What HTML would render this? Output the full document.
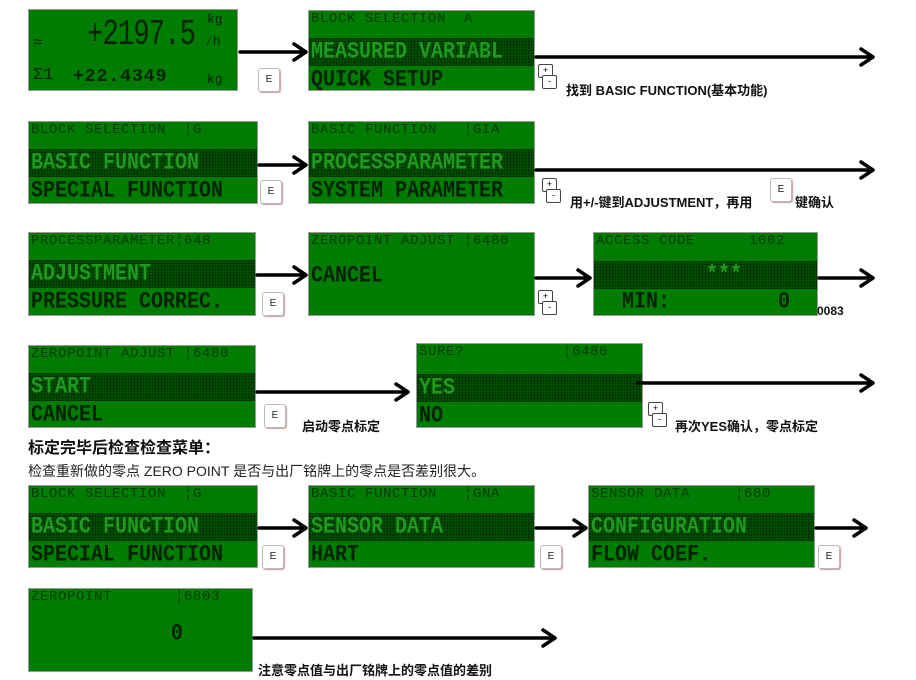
<!DOCTYPE html>
<html><head><meta charset="utf-8">
<style>
body{margin:0;width:916px;height:680px;background:#fff;position:relative;overflow:hidden;font-family:"Liberation Sans","Noto Sans CJK SC",sans-serif;}
.lcd{position:absolute;background:#007d00;border:1px solid #9a9a9a;box-sizing:border-box;overflow:hidden;font-family:"Liberation Mono",monospace;}
.hd{position:absolute;left:2px;top:0px;font-size:14px;color:#003c00;letter-spacing:0.6px;white-space:pre;line-height:16px;}
.band{position:absolute;left:0;right:0;top:27px;height:28px;background:#005000;background-image:repeating-linear-gradient(90deg,rgba(0,0,0,.25) 0 1px,transparent 1px 3px),repeating-linear-gradient(0deg,rgba(0,0,0,.25) 0 1px,transparent 1px 3px);}
.r{position:absolute;left:2px;font-size:20px;letter-spacing:0px;white-space:pre;line-height:22px;transform:scaleY(1.15);transform-origin:top left;font-weight:bold;}
.r2{top:29px;color:#1f9a1f;}
.r3{top:57px;color:#002200;}
.key{position:absolute;width:20px;height:22px;background:#fff;border:1px solid #bbb;border-radius:3px;box-shadow:1px 1px 1px #c99;font-size:10px;text-align:center;line-height:22px;font-family:"Liberation Sans",sans-serif;color:#222;}
.pm{position:absolute;width:22px;height:26px;}
.pm div{position:absolute;width:13px;height:12px;background:#fff;border:1px solid #444;border-radius:2px;font-size:9px;line-height:10px;text-align:center;}
.t{position:absolute;font-size:13px;font-weight:bold;color:#111;white-space:nowrap;}
svg{position:absolute;left:0;top:0;}
</style></head><body>

<!-- Row1 -->
<div class="lcd" style="left:28px;top:9px;width:210px;height:82px;">
  <div style="position:absolute;left:58px;top:4px;font-size:36px;color:#002200;transform:scaleX(0.75);transform-origin:left;letter-spacing:-1px;">+2197.5</div>
  <div style="position:absolute;left:178px;top:2px;font-size:13px;color:#002200;">kg</div>
  <div style="position:absolute;left:176px;top:24px;font-size:13px;color:#002200;">∕h</div>
  <div style="position:absolute;left:4px;top:24px;font-size:16px;color:#002200;">≈</div>
  <div style="position:absolute;left:4px;top:56px;font-size:17px;color:#002200;">Σ1</div>
  <div style="position:absolute;left:44px;top:57px;font-size:18px;font-weight:bold;color:#002200;letter-spacing:1px;">+22.4349</div>
  <div style="position:absolute;left:178px;top:62px;font-size:13px;color:#002200;">kg</div>
</div>
<div class="key" style="left:258px;top:68px;">E</div>
<div class="lcd" style="left:308px;top:10px;width:227px;height:81px;">
  <div class="hd">BLOCK SELECTION  A</div><div class="band"></div>
  <div class="r r2">MEASURED VARIABL</div><div class="r r3">QUICK SETUP</div>
</div>
<div class="pm" style="left:538px;top:64px;"><div style="left:0;top:0">+</div><div style="left:4px;top:11px">-</div></div>
<div class="t" style="left:566px;top:80px;">找到 BASIC FUNCTION(基本功能)</div>

<!-- Row2 -->
<div class="lcd" style="left:28px;top:121px;width:230px;height:83px;">
  <div class="hd">BLOCK SELECTION  ¦G</div><div class="band"></div>
  <div class="r r2">BASIC FUNCTION</div><div class="r r3">SPECIAL FUNCTION</div>
</div>
<div class="key" style="left:260px;top:180px;">E</div>
<div class="lcd" style="left:308px;top:121px;width:227px;height:83px;">
  <div class="hd">BASIC FUNCTION   ¦GIA</div><div class="band"></div>
  <div class="r r2">PROCESSPARAMETER</div><div class="r r3">SYSTEM PARAMETER</div>
</div>
<div class="pm" style="left:542px;top:178px;"><div style="left:0;top:0">+</div><div style="left:4px;top:11px">-</div></div>
<div class="t" style="left:570px;top:192px;">用+/-键到ADJUSTMENT，再用</div>
<div class="key" style="left:770px;top:178px;">E</div>
<div class="t" style="left:795px;top:192px;">键确认</div>

<!-- Row3 -->
<div class="lcd" style="left:28px;top:232px;width:228px;height:84px;">
  <div class="hd">PROCESSPARAMETER¦648</div><div class="band"></div>
  <div class="r r2">ADJUSTMENT</div><div class="r r3">PRESSURE CORREC.</div>
</div>
<div class="key" style="left:262px;top:292px;">E</div>
<div class="lcd" style="left:308px;top:232px;width:227px;height:84px;">
  <div class="hd">ZEROPOINT ADJUST ¦6480</div>
  <div class="r" style="top:31px;color:#002200;">CANCEL</div>
</div>
<div class="pm" style="left:538px;top:290px;"><div style="left:0;top:0">+</div><div style="left:4px;top:11px">-</div></div>
<div class="lcd" style="left:593px;top:232px;width:225px;height:84px;">
  <div class="hd">ACCESS CODE      1002</div><div class="band" style="top:28px;"></div>
  <div class="r" style="top:30px;left:112px;color:#1f9a1f;">***</div>
  <div class="r r3" style="left:28px;">MIN:         0</div>
</div>
<div class="t" style="left:817px;top:304px;font-size:12px;">0083</div>

<!-- Row4 -->
<div class="lcd" style="left:28px;top:345px;width:228px;height:83px;">
  <div class="hd">ZEROPOINT ADJUST ¦6480</div><div class="band"></div>
  <div class="r r2">START</div><div class="r r3">CANCEL</div>
</div>
<div class="key" style="left:264px;top:404px;">E</div>
<div class="t" style="left:302px;top:416px;">启动零点标定</div>
<div class="lcd" style="left:416px;top:343px;width:227px;height:85px;">
  <div class="hd">SURE?           ¦6480</div><div class="band" style="top:30px;"></div>
  <div class="r r2" style="top:32px;">YES</div><div class="r r3" style="top:60px;">NO</div>
</div>
<div class="pm" style="left:648px;top:402px;"><div style="left:0;top:0">+</div><div style="left:4px;top:11px">-</div></div>
<div class="t" style="left:675px;top:416px;">再次YES确认，零点标定</div>

<div style="position:absolute;left:28px;top:434px;font-size:16px;font-weight:bold;color:#111;">标定完毕后检查检查菜单：</div>
<div style="position:absolute;left:28px;top:461px;font-size:14px;color:#222;">检查重新做的零点 ZERO POINT 是否与出厂铭牌上的零点是否差别很大。</div>

<!-- Row5 -->
<div class="lcd" style="left:28px;top:485px;width:230px;height:83px;">
  <div class="hd">BLOCK SELECTION  ¦G</div><div class="band"></div>
  <div class="r r2">BASIC FUNCTION</div><div class="r r3">SPECIAL FUNCTION</div>
</div>
<div class="key" style="left:262px;top:545px;">E</div>
<div class="lcd" style="left:308px;top:485px;width:227px;height:83px;">
  <div class="hd">BASIC FUNCTION   ¦GNA</div><div class="band"></div>
  <div class="r r2">SENSOR DATA</div><div class="r r3">HART</div>
</div>
<div class="key" style="left:540px;top:545px;">E</div>
<div class="lcd" style="left:588px;top:485px;width:227px;height:83px;">
  <div class="hd">SENSOR DATA     ¦680</div><div class="band"></div>
  <div class="r r2">CONFIGURATION</div><div class="r r3">FLOW COEF.</div>
</div>
<div class="key" style="left:818px;top:545px;">E</div>

<!-- Row6 -->
<div class="lcd" style="left:28px;top:588px;width:225px;height:84px;">
  <div class="hd">ZEROPOINT       ¦6803</div>
  <div class="r" style="top:33px;left:142px;color:#002200;">0</div>
</div>
<div class="t" style="left:258px;top:660px;">注意零点值与出厂铭牌上的零点值的差别</div>

<svg width="916" height="680">
<g stroke="#000" stroke-width="3.5" fill="none" stroke-linecap="round" stroke-linejoin="round">
<path d="M240 52H306M294 44L306 52L294 60"/>
<path d="M536 57H873M861 49L873 57L861 65"/>
<path d="M259 165H306M294 157L306 165L294 173"/>
<path d="M536 170H873M861 162L873 170L861 178"/>
<path d="M257 275H306M294 267L306 275L294 283"/>
<path d="M536 278H590M578 270L590 278L578 286"/>
<path d="M819 278H873M861 270L873 278L861 286"/>
<path d="M257 392H408M396 384L408 392L396 400"/>
<path d="M638 383H873M861 375L873 383L861 391"/>
<path d="M259 528H306M294 520L306 528L294 536"/>
<path d="M536 528H586M574 520L586 528L574 536"/>
<path d="M816 528H866M854 520L866 528L854 536"/>
<path d="M254 638H555M543 630L555 638L543 646"/>
</g></svg>
</body></html>
